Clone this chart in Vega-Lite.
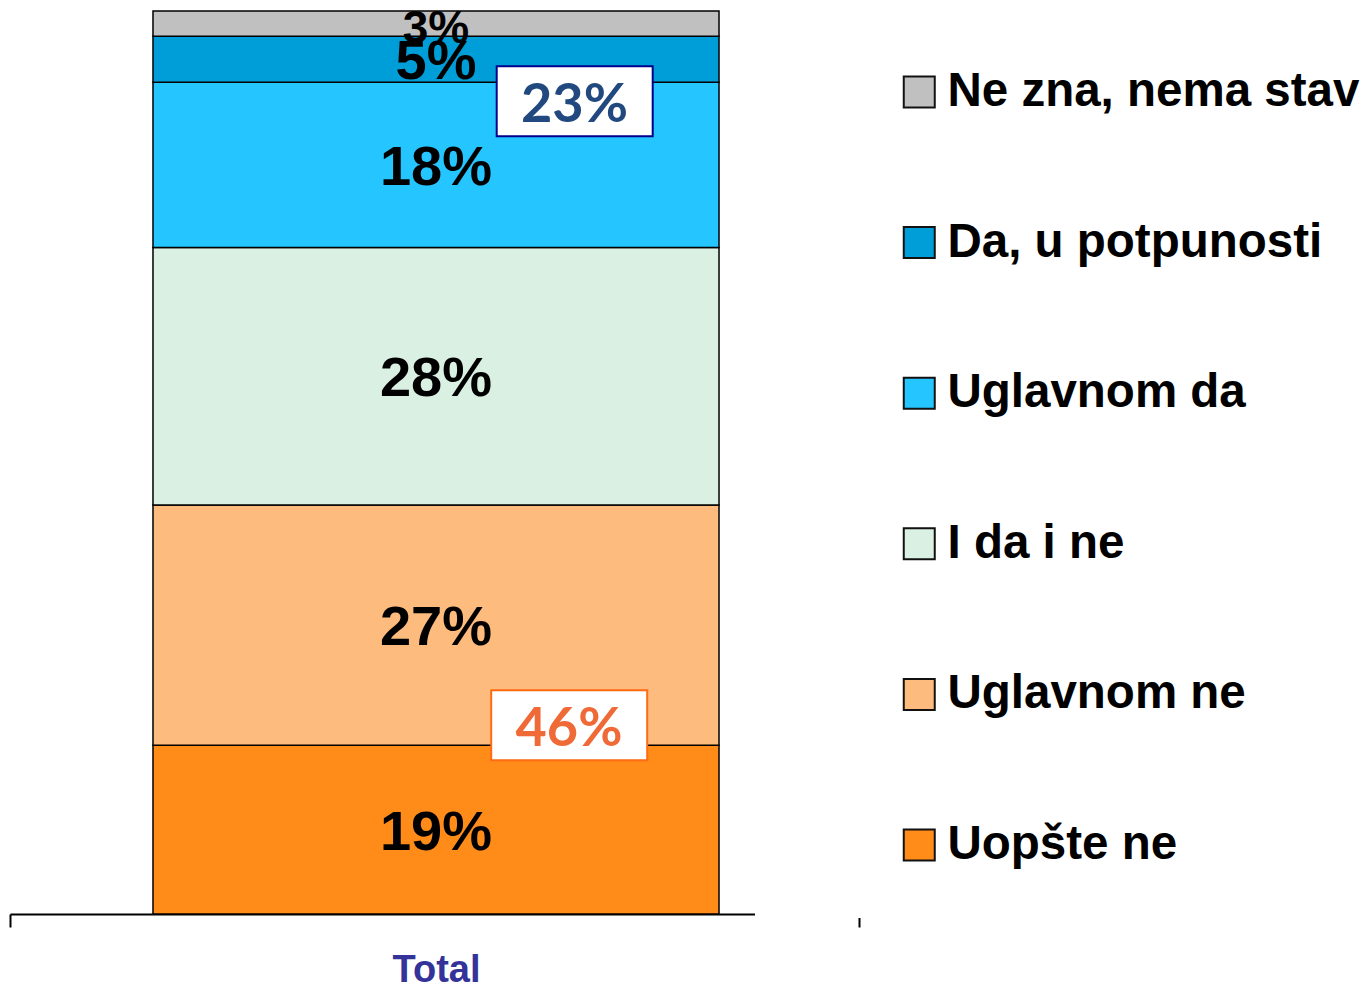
{
  "$schema": "https://vega.github.io/schema/vega-lite/v6.json",
  "width": 849,
  "height": 903,
  "autosize": {"type": "none"},
  "padding": {"left": 10, "top": 11, "right": 506, "bottom": 73},
  "background": "white",
  "config": {"view": {"stroke": null}},
  "datasets": {
    "answers": [
      {"cat": "Total", "answer": "Uopšte ne", "rank": 1, "pct": 18.7, "label": "19%"},
      {"cat": "Total", "answer": "Uglavnom ne", "rank": 2, "pct": 26.6, "label": "27%"},
      {"cat": "Total", "answer": "I da i ne", "rank": 3, "pct": 28.5, "label": "28%"},
      {"cat": "Total", "answer": "Uglavnom da", "rank": 4, "pct": 18.3, "label": "18%"},
      {"cat": "Total", "answer": "Da, u potpunosti", "rank": 5, "pct": 5.1, "label": "5%"},
      {"cat": "Total", "answer": "Ne zna, nema stav", "rank": 6, "pct": 2.8, "label": "3%"}
    ],
    "notes": [
      {"cat": "Total", "note": "23%", "pos": 90.0},
      {"cat": "Total", "note": "46%", "pos": 20.9}
    ]
  },
  "encoding": {
    "x": {
      "field": "cat",
      "type": "nominal",
      "scale": {"paddingInner": 0, "paddingOuter": 0},
      "axis": {
        "title": null,
        "labelAngle": 0,
        "labelFont": "Liberation Sans",
        "labelFontWeight": "bold",
        "labelFontSize": 38,
        "labelColor": "#333399",
        "labelPadding": 24,
        "labelOffset": 1.5,
        "tickBand": "extent",
        "tickSize": 13,
        "tickWidth": 2,
        "tickColor": "#000000",
        "domainColor": "#000000",
        "domainWidth": 2,
        "grid": false
      }
    }
  },
  "layer": [
    {
      "data": {"name": "answers"},
      "mark": {"type": "bar", "width": {"band": 0.6667}, "xOffset": 1.5, "stroke": "#000000", "strokeWidth": 1.5},
      "encoding": {
        "y": {"field": "pct", "type": "quantitative", "stack": "zero", "scale": {"domain": [0, 100], "nice": false}, "axis": null},
        "order": {"field": "rank", "type": "quantitative"},
        "color": {
          "field": "answer",
          "type": "nominal",
          "scale": {
            "domain": ["Ne zna, nema stav", "Da, u potpunosti", "Uglavnom da", "I da i ne", "Uglavnom ne", "Uopšte ne"],
            "range": ["#C0C0C0", "#009ED8", "#25C5FF", "#D9F0E2", "#FDBB7D", "#FF8B19"]
          },
          "legend": {
            "title": null,
            "orient": "none",
            "legendX": 745,
            "legendY": 8,
            "padding": 0,
            "fillColor": "white",
            "symbolType": "square",
            "symbolSize": 961,
            "symbolStrokeColor": "#111111",
            "symbolStrokeWidth": 2,
            "symbolOpacity": 1,
            "symbolOffset": 140.5,
            "labelOffset": 4.5,
            "labelFont": "Liberation Sans",
            "labelFontWeight": "bold",
            "labelFontSize": 47.5,
            "labelColor": "#000000",
            "labelLimit": 700,
            "clipHeight": 146,
            "rowPadding": 4.6
          }
        }
      }
    },
    {
      "data": {"name": "answers"},
      "transform": [
        {"stack": "pct", "groupby": ["cat"], "sort": [{"field": "rank", "order": "ascending"}], "as": ["lo", "hi"]},
        {"calculate": "(datum.lo + datum.hi) / 2", "as": "mid"},
        {"filter": "datum.pct >= 4"}
      ],
      "mark": {"type": "text", "font": "Liberation Sans", "fontWeight": "bold", "fontSize": 56, "color": "#000000", "dx": 1.5, "dy": 3},
      "encoding": {
        "y": {"field": "mid", "type": "quantitative"},
        "text": {"field": "label"}
      }
    },
    {
      "data": {"name": "answers"},
      "transform": [
        {"stack": "pct", "groupby": ["cat"], "sort": [{"field": "rank", "order": "ascending"}], "as": ["lo", "hi"]},
        {"calculate": "(datum.lo + datum.hi) / 2", "as": "mid"},
        {"filter": "datum.pct < 4"}
      ],
      "mark": {"type": "text", "font": "Liberation Sans", "fontWeight": "bold", "fontSize": 46, "color": "#000000", "dx": 1.5, "dy": 5},
      "encoding": {
        "y": {"field": "mid", "type": "quantitative"},
        "text": {"field": "label"}
      }
    },
    {
      "data": {"name": "notes"},
      "transform": [{"filter": "datum.note == '23%'"}],
      "layer": [
        {
          "mark": {"type": "point", "shape": "M-78,-35H78V35H-78Z", "size": 4, "filled": true, "fill": "#FFFFFF", "stroke": "#00008B", "strokeWidth": 2, "opacity": 1, "xOffset": 140.2},
          "encoding": {"y": {"field": "pos", "type": "quantitative"}}
        },
        {
          "mark": {"type": "text", "font": "Lato", "fontWeight": "bold", "fontSize": 54, "color": "#22497F", "dx": 140, "dy": 5},
          "encoding": {"y": {"field": "pos", "type": "quantitative"}, "text": {"field": "note"}}
        }
      ]
    },
    {
      "data": {"name": "notes"},
      "transform": [{"filter": "datum.note == '46%'"}],
      "layer": [
        {
          "mark": {"type": "point", "shape": "M-78,-35H78V35H-78Z", "size": 4, "filled": true, "fill": "#FFFFFF", "stroke": "#FF6A13", "strokeWidth": 2, "opacity": 1, "xOffset": 134.7},
          "encoding": {"y": {"field": "pos", "type": "quantitative"}}
        },
        {
          "mark": {"type": "text", "font": "Lato", "fontWeight": "bold", "fontSize": 54, "color": "#F06A38", "dx": 134.5, "dy": 5},
          "encoding": {"y": {"field": "pos", "type": "quantitative"}, "text": {"field": "note"}}
        }
      ]
    }
  ]
}
